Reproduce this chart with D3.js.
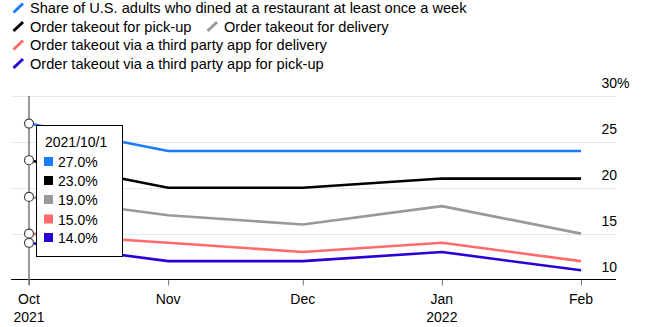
<!DOCTYPE html>
<html><head><meta charset="utf-8">
<script src="https://cdn.jsdelivr.net/npm/d3@7"></script>
<style>
html,body{margin:0;padding:0;background:#fff;}
svg{display:block;font-family:"Liberation Sans",Arial,Helvetica,sans-serif;}
</style></head>
<body><svg id="chart" width="670" height="327"></svg>
<script>
const dates = ["2021-10-01","2021-11-01","2021-12-01","2022-01-01","2022-02-01"];
const seriesNames = [
  "Share of U.S. adults who dined at a restaurant at least once a week",
  "Order takeout for pick-up",
  "Order takeout for delivery",
  "Order takeout via a third party app for delivery",
  "Order takeout via a third party app for pick-up"
];
const seriesColors = ["#1a7cff","#000000","#999999","#ff6b6b","#2a00d6"];
const dinedIn = [27,24,24,24,24];
const pickUp = [23,20,20,21,21];
const delivery = [19,17,16,18,15];
const appDelivery = [15,14,13,14,12];
const appPickUp = [14,12,12,13,11];
const seriesValues = [dinedIn,pickUp,delivery,appDelivery,appPickUp];
const yTicks = [10,15,20,25,30];
const xTickLabels = [["Oct","2021"],["Nov",""],["Dec",""],["Jan","2022"],["Feb",""]];
const tooltipTitle = "2021/10/1";

const parse = d3.timeParse("%Y-%m-%d");
const xDates = dates.map(parse);
const svg = d3.select("#chart");
const x = d3.scaleTime().domain([xDates[0], xDates[xDates.length-1]]).range([29,581]);
const y = d3.scaleLinear().domain([10,30]).range([279.5,96]);
const left = 11, right = 616;

// gridlines
svg.append("g").selectAll("line").data(yTicks.filter(t=>t>10)).join("line")
  .attr("x1",left).attr("x2",right)
  .attr("y1",d=>Math.round(y(d))+0.5).attr("y2",d=>Math.round(y(d))+0.5)
  .attr("stroke","#e8e8e8").attr("stroke-width",1);

// y labels
const yl = svg.append("g").attr("font-size",14).attr("fill","#000");
yTicks.forEach(t=>{
  yl.append("text").attr("x",617).attr("y",y(t)-8).attr("text-anchor","end").text(t);
  if(t===30) yl.append("text").attr("x",617).attr("y",y(t)-8).text("%");
});

// x axis
const xAxis = d3.axisBottom(x).tickValues(xDates).tickSize(6).tickFormat("");
const ga = svg.append("g").attr("transform","translate(0,279.5)").call(xAxis);
ga.select(".domain").remove();
ga.selectAll(".tick line").attr("stroke","#777");
svg.append("line").attr("x1",left).attr("x2",right).attr("y1",279.5).attr("y2",279.5)
  .attr("stroke","#000").attr("stroke-width",1);
const xl = svg.append("g").attr("font-size",14).attr("fill","#000").attr("text-anchor","middle");
xDates.forEach((d,i)=>{
  xl.append("text").attr("x",x(d)).attr("y",304).text(xTickLabels[i][0]);
  if(xTickLabels[i][1]) xl.append("text").attr("x",x(d)).attr("y",322).text(xTickLabels[i][1]);
});

// lines
const line = d3.line().x((d,i)=>x(xDates[i])).y(d=>y(d));
svg.append("g").selectAll("path").data(seriesValues.map((v,i)=>({v,i})).reverse()).join("path")
  .attr("d",d=>line(d.v)).attr("fill","none").attr("stroke",d=>seriesColors[d.i])
  .attr("stroke-width",2.6).attr("stroke-linejoin","round");

// crosshair
svg.append("line").attr("x1",x(xDates[0])).attr("x2",x(xDates[0])).attr("y1",96).attr("y2",285)
  .attr("stroke","#777").attr("stroke-width",1.5);
svg.append("g").selectAll("circle").data(seriesValues).join("circle")
  .attr("cx",x(xDates[0])).attr("cy",d=>y(d[0])).attr("r",4.5)
  .attr("fill","#fff").attr("stroke","#444").attr("stroke-width",1.2);

// tooltip
const tt = svg.append("g");
tt.append("rect").attr("x",36.5).attr("y",125.5).attr("width",86).attr("height",131)
  .attr("fill","#fff").attr("stroke","#000").attr("stroke-width",1);
tt.append("text").attr("x",45).attr("y",146.5).attr("font-size",14).attr("fill","#000").text(tooltipTitle);
const rowY = [167,186,205,224.5,243];
seriesValues.forEach((v,i)=>{
  tt.append("rect").attr("x",44).attr("y",rowY[i]-10).attr("width",9).attr("height",9).attr("fill",seriesColors[i]);
  tt.append("text").attr("x",58).attr("y",rowY[i]).attr("font-size",14).attr("fill","#000").text(v[0].toFixed(1)+"%");
});

// legend
const legendItems = [
  {i:0,x:12,y:13},
  {i:1,x:12,y:31.5},
  {i:2,x:206,y:31.5},
  {i:3,x:12,y:50},
  {i:4,x:12,y:68.5}
];
const lg = svg.append("g").attr("font-size",14.6).attr("fill","#000");
legendItems.forEach(it=>{
  lg.append("line").attr("x1",it.x+1.5).attr("y1",it.y-0.5).attr("x2",it.x+11).attr("y2",it.y-9.5)
    .attr("stroke",seriesColors[it.i]).attr("stroke-width",3);
  lg.append("text").attr("x",it.x+18).attr("y",it.y).text(seriesNames[it.i]);
});
</script></body></html>
